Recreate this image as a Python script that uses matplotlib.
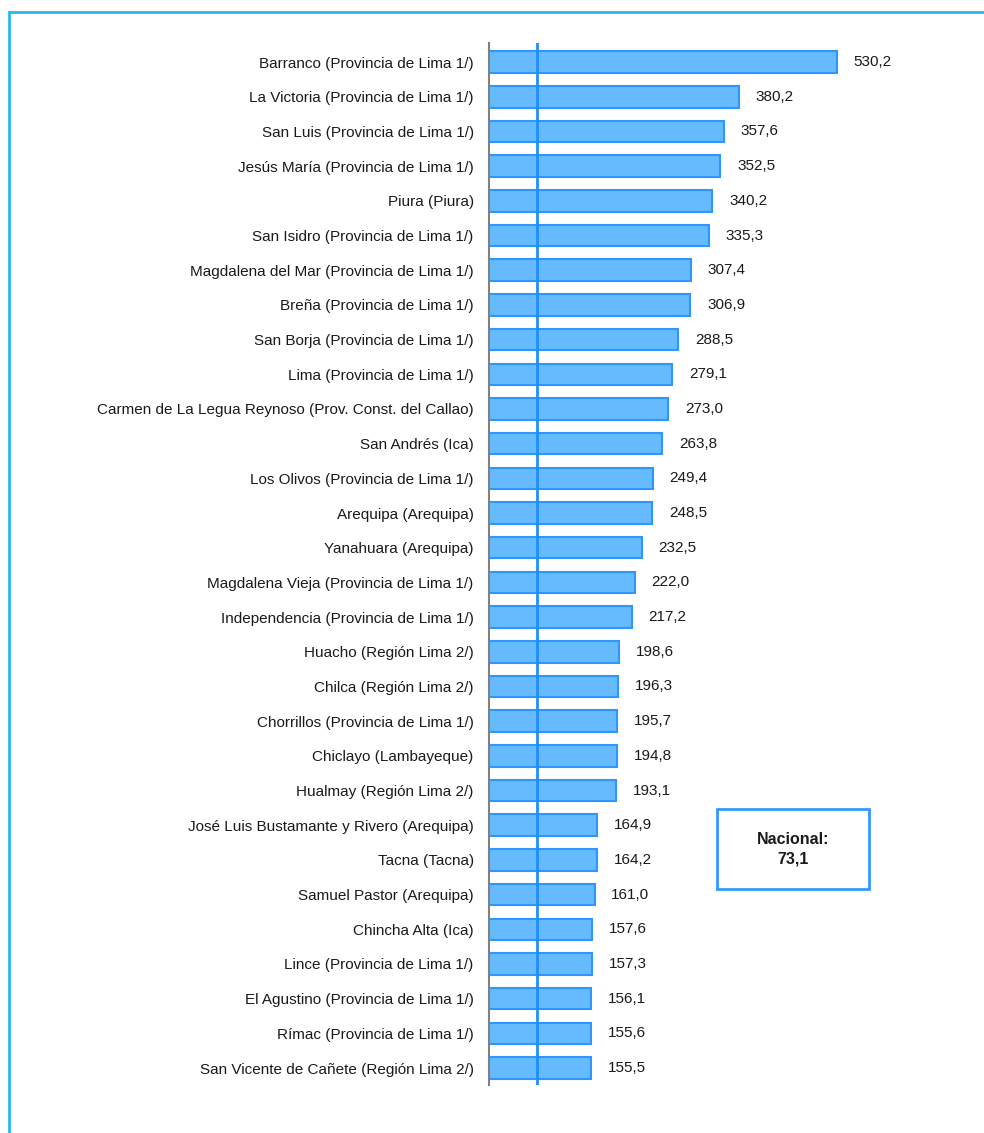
import matplotlib
matplotlib.use("Agg")
import matplotlib.pyplot as plt
from matplotlib.patches import Rectangle
from matplotlib import font_manager

categories = [
    "Barranco (Provincia de Lima 1/)",
    "La Victoria (Provincia de Lima 1/)",
    "San Luis (Provincia de Lima 1/)",
    "Jesús María (Provincia de Lima 1/)",
    "Piura (Piura)",
    "San Isidro (Provincia de Lima 1/)",
    "Magdalena del Mar (Provincia de Lima 1/)",
    "Breña (Provincia de Lima 1/)",
    "San Borja (Provincia de Lima 1/)",
    "Lima (Provincia de Lima 1/)",
    "Carmen de La Legua Reynoso (Prov. Const. del Callao)",
    "San Andrés (Ica)",
    "Los Olivos (Provincia de Lima 1/)",
    "Arequipa (Arequipa)",
    "Yanahuara (Arequipa)",
    "Magdalena Vieja (Provincia de Lima 1/)",
    "Independencia (Provincia de Lima 1/)",
    "Huacho (Región Lima 2/)",
    "Chilca (Región Lima 2/)",
    "Chorrillos (Provincia de Lima 1/)",
    "Chiclayo (Lambayeque)",
    "Hualmay (Región Lima 2/)",
    "José Luis Bustamante y Rivero (Arequipa)",
    "Tacna (Tacna)",
    "Samuel Pastor (Arequipa)",
    "Chincha Alta (Ica)",
    "Lince (Provincia de Lima 1/)",
    "El Agustino (Provincia de Lima 1/)",
    "Rímac (Provincia de Lima 1/)",
    "San Vicente de Cañete (Región Lima 2/)",
]
values = [530.2, 380.2, 357.6, 352.5, 340.2, 335.3, 307.4, 306.9, 288.5, 279.1,
          273.0, 263.8, 249.4, 248.5, 232.5, 222.0, 217.2, 198.6, 196.3, 195.7,
          194.8, 193.1, 164.9, 164.2, 161.0, 157.6, 157.3, 156.1, 155.6, 155.5]
national = 73.1

names = {f.name for f in font_manager.fontManager.ttflist}
fam = ["Liberation Sans Narrow", "DejaVu Sans"] if "Liberation Sans Narrow" in names else ["Liberation Sans", "DejaVu Sans"]
plt.rcParams["font.family"] = fam

W, H = 984, 1133
fig = plt.figure(figsize=(W / 100, H / 100), dpi=100)

# outer frame
fig.patches.append(Rectangle((9 / W, -0.05), 1.2, 1 - 12 / H + 0.05, transform=fig.transFigure,
                             fill=False, edgecolor="#29B6F0", linewidth=2))

ax_left, ax_right = 489, 900
ax_top, ax_bot = 43, 1085
ax = fig.add_axes([ax_left / W, 1 - ax_bot / H, (ax_right - ax_left) / W, (ax_bot - ax_top) / H])
xmax = 530.2 * (ax_right - ax_left) / (837 - ax_left)
ax.set_xlim(0, xmax)
ax.set_ylim(len(values) - 0.51, -0.55)

y = list(range(len(values)))
ax.barh(y, values, height=0.62, color="#66BBFF", edgecolor="#2E96FF", linewidth=1.5, zorder=2)
ax.axvline(national, color="#1E8FFF", linewidth=2, zorder=3)

for yi, v in zip(y, values):
    ax.annotate(f"{v:.1f}".replace(".", ","), xy=(v, yi), xytext=(12, 0),
                textcoords="offset points", va="center", ha="left", fontsize=11, color="#1a1a1a")

ax.set_yticks(y)
ax.set_yticklabels(categories, fontsize=11, color="#1a1a1a")
ax.tick_params(axis="y", length=0, pad=11)
ax.set_xticks([])
for s in ["top", "right", "bottom"]:
    ax.spines[s].set_visible(False)
ax.spines["left"].set_color("#808080")
ax.spines["left"].set_linewidth(1.5)

# Nacional box
bx0, by0, bx1, by1 = 717, 809, 869, 889
fig.patches.append(Rectangle((bx0 / W, 1 - by1 / H), (bx1 - bx0) / W, (by1 - by0) / H,
                             transform=fig.transFigure, fill=False, edgecolor="#3399FF", linewidth=2))
fig.text((bx0 + bx1) / 2 / W, 1 - (by0 + by1) / 2 / H, "Nacional:\n73,1", ha="center", va="center",
         fontsize=11.5, fontweight="bold", linespacing=1.35, color="#1a1a1a")

fig.savefig("out.png", dpi=100)
